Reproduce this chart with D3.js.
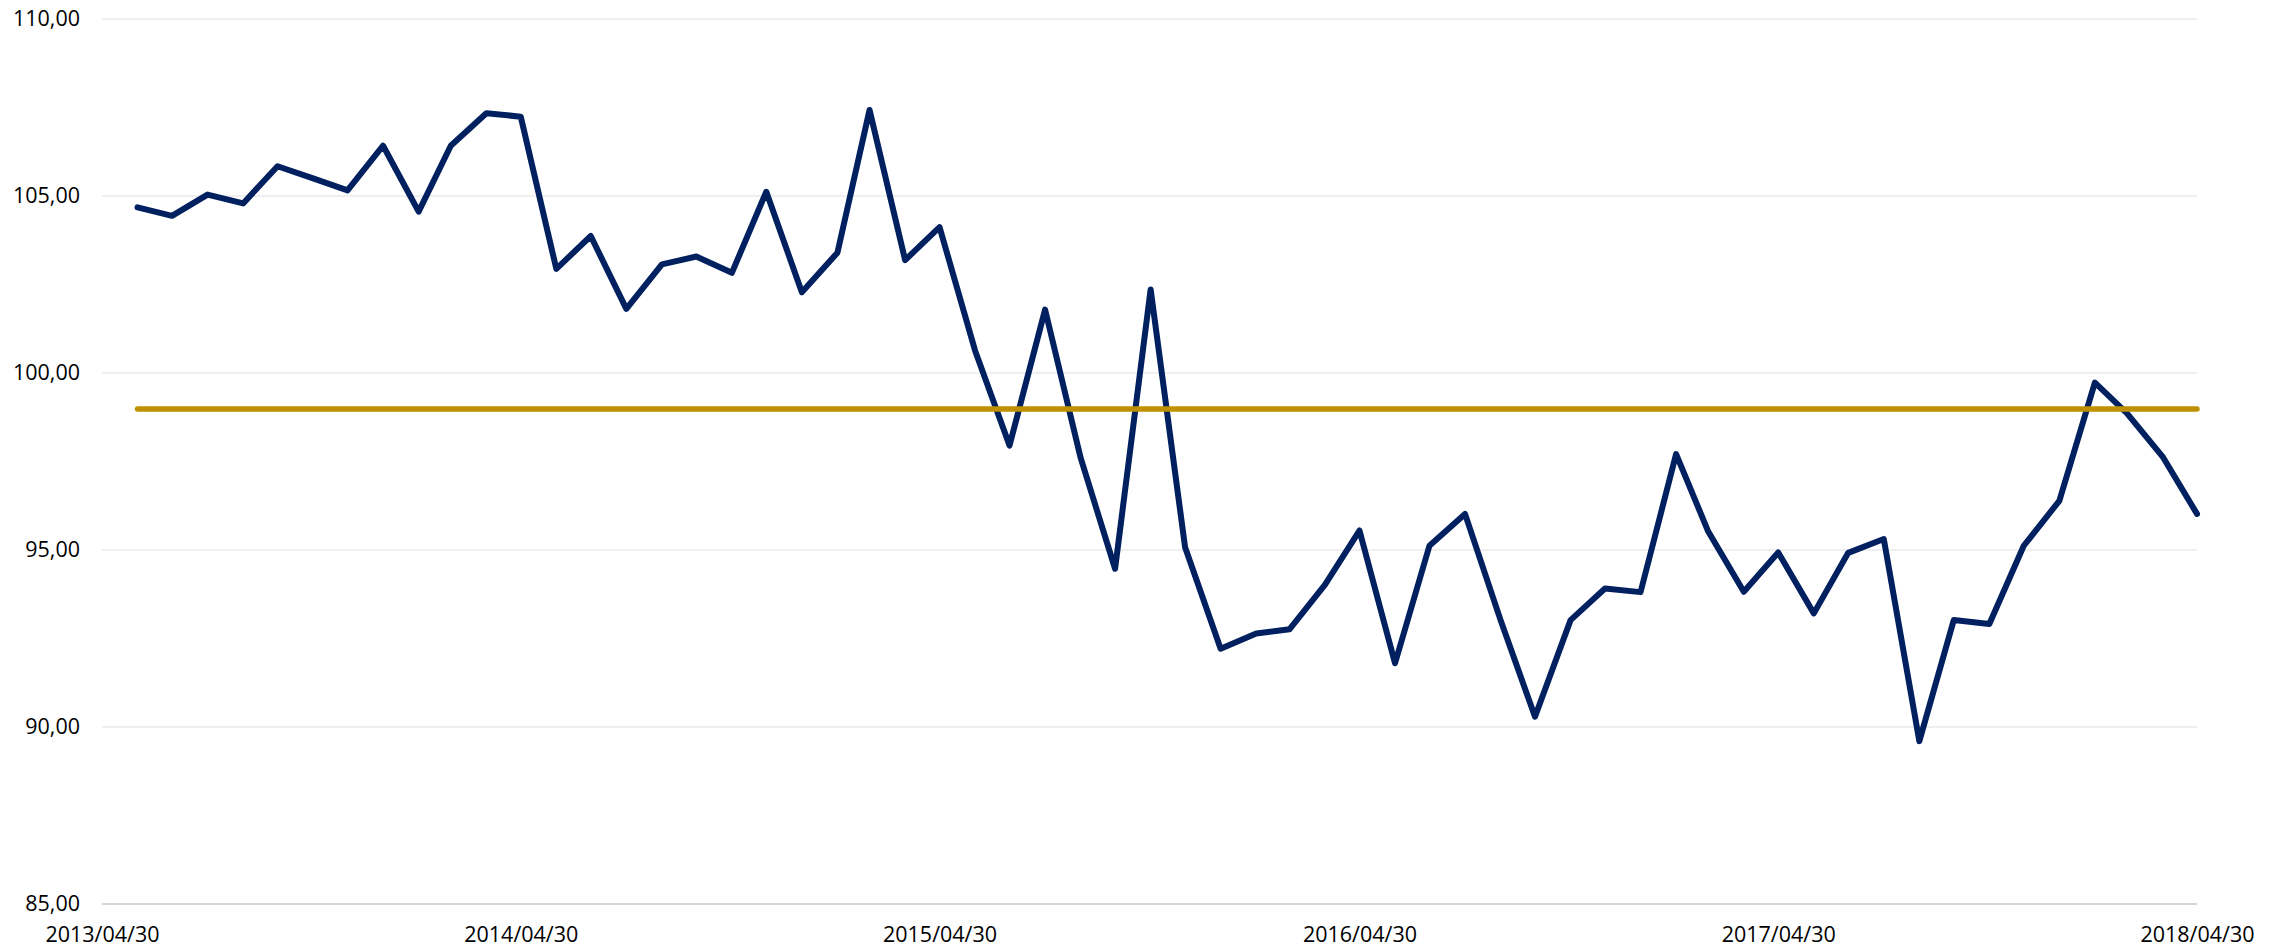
<!DOCTYPE html>
<html>
<head>
<meta charset="utf-8">
<script src="https://cdn.jsdelivr.net/npm/d3@7/dist/d3.min.js"></script>
<style>
  html, body { margin: 0; padding: 0; background: #ffffff; }
  svg { display: block; }
  text { font-family: "Open Sans", "Noto Sans", sans-serif; fill: #000; }
</style>
</head>
<body>
<svg id="chart" width="2284" height="950"></svg>
<script>
// ---- data ----
const startDate = "2013/04/30";
const endDate = "2018/04/30";
const xTickLabels = ["2013/04/30", "2014/04/30", "2015/04/30", "2016/04/30", "2017/04/30", "2018/04/30"];
const yTicks = [85, 90, 95, 100, 105, 110];
// monthly values, month ends from 2013/05/31 to 2018/04/30
const seriesValues = [
  104.68, 104.44, 105.04, 104.79, 105.84, 105.50, 105.16, 106.42, 104.56, 106.42,
  107.34, 107.24, 102.94, 103.87, 101.81, 103.07, 103.29, 102.83, 105.12, 102.28,
  103.40, 107.43, 103.19, 104.12, 100.63, 97.95, 101.79, 97.60, 94.47, 102.36,
  95.08, 92.21, 92.64, 92.76, 94.02, 95.55, 91.80, 95.12, 96.02, 93.02,
  90.29, 93.02, 93.91, 93.81, 97.71, 95.52, 93.82, 94.93, 93.21, 94.92,
  95.31, 89.60, 93.02, 92.91, 95.12, 96.39, 99.73, 98.86, 97.64, 96.02
];
const referenceValue = 98.98;

// ---- build ----
const parse = d3.utcParse("%Y/%m/%d");
const fmtY = v => d3.format(".2f")(v).replace(".", ",");
const t0 = parse(startDate), t1 = parse(endDate);
// month-end dates: one month after start for each point
const dates = seriesValues.map((v, i) => d3.utcDay.offset(d3.utcMonth.offset(d3.utcMonth.floor(t0), i + 2), -1));
const data = seriesValues.map((v, i) => ({ date: dates[i], value: v }));
const refData = dates.map(d => ({ date: d, value: referenceValue }));

const svg = d3.select("#chart");
const x = d3.scaleUtc().domain([t0, t1]).range([102, 2197]);
const y = d3.scaleLinear().domain([85, 110]).range([904, 19]);

// gridlines
svg.append("g").selectAll("line")
  .data(yTicks.filter(t => t !== 85))
  .join("line")
  .attr("x1", x.range()[0]).attr("x2", x.range()[1])
  .attr("y1", d => y(d)).attr("y2", d => y(d))
  .attr("stroke", "#efefef").attr("stroke-width", 2);

// baseline
svg.append("line")
  .attr("x1", x.range()[0]).attr("x2", x.range()[1])
  .attr("y1", y(85)).attr("y2", y(85))
  .attr("stroke", "#d6d6d6").attr("stroke-width", 2);

// y axis labels
const yAxis = d3.axisLeft(y).tickValues(yTicks).tickFormat(fmtY).tickSize(0).tickPadding(0);
const gy = svg.append("g").attr("transform", "translate(80,0)").call(yAxis);
gy.select(".domain").remove();
gy.selectAll("text").attr("font-size", "21.5px").attr("fill", "#000")
  .attr("font-family", "'Open Sans', 'Noto Sans', sans-serif");

// x axis labels
const xAxis = d3.axisBottom(x)
  .tickValues(xTickLabels.map(parse))
  .tickFormat(d3.utcFormat("%Y/%m/%d"))
  .tickSize(0).tickPadding(0);
const gx = svg.append("g").attr("transform", "translate(0,927)").call(xAxis);
gx.select(".domain").remove();
gx.selectAll("text").attr("font-size", "21.5px").attr("fill", "#000")
  .attr("font-family", "'Open Sans', 'Noto Sans', sans-serif");

const line = d3.line().x(d => x(d.date)).y(d => y(d.value));

svg.append("path")
  .datum(data)
  .attr("d", line)
  .attr("fill", "none")
  .attr("stroke", "#002060")
  .attr("stroke-width", 6)
  .attr("stroke-linejoin", "round")
  .attr("stroke-linecap", "round");

svg.append("path")
  .datum(refData)
  .attr("d", line)
  .attr("fill", "none")
  .attr("stroke", "#BF9000")
  .attr("stroke-width", 5.5)
  .attr("stroke-linecap", "round");
</script>
</body>
</html>
